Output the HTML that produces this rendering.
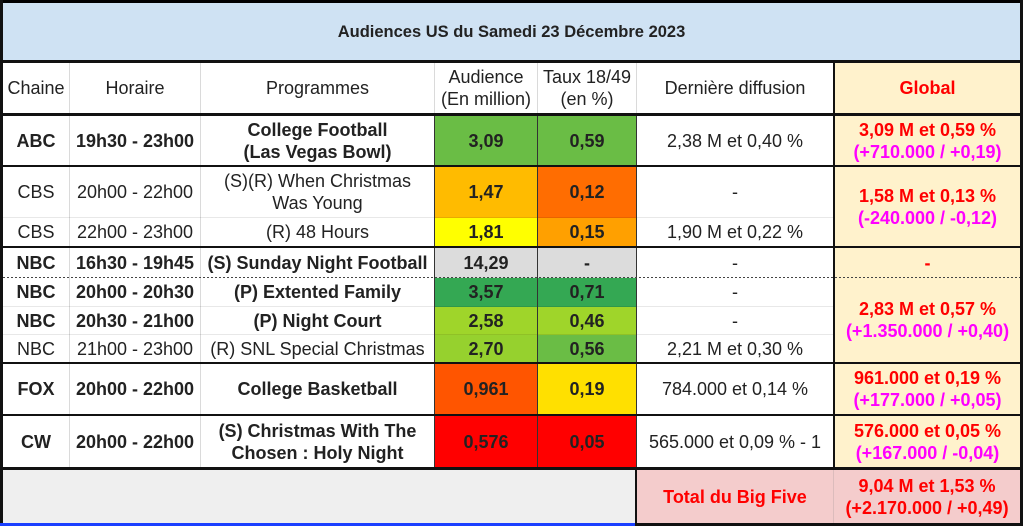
<!DOCTYPE html>
<html><head><meta charset="utf-8">
<style>
html,body{margin:0;padding:0;background:#fff;}
#w{position:relative;width:1023px;height:529px;overflow:hidden;background:#fff;font-family:"Liberation Sans",Arial,sans-serif;color:#222;}
.c{position:absolute;display:flex;align-items:center;justify-content:center;text-align:center;font-size:18px;line-height:22px;white-space:nowrap;}
.b{font-weight:bold;}
.r{color:#ff0000;font-weight:bold;}
.m{color:#ff00ff;font-weight:bold;}
.l{position:absolute;}
</style></head><body><div id="w">

<!-- backgrounds -->
<div class="l" style="left:3px;top:3px;width:1017px;height:57px;background:#cfe2f3"></div>
<div class="l" style="left:835px;top:63px;width:185px;height:405px;background:#fff2cc"></div>
<div class="l" style="left:3px;top:470px;width:632px;height:53px;background:#efefef"></div>
<div class="l" style="left:637px;top:470px;width:383px;height:53px;background:#f4cccc"></div>

<!-- colored cells: audience 435-537, taux 538-636 -->
<div class="l" style="left:435px;top:116px;width:102px;height:49px;background:#6abd45"></div>
<div class="l" style="left:538px;top:116px;width:98px;height:49px;background:#6abd45"></div>
<div class="l" style="left:435px;top:167px;width:102px;height:51px;background:#ffbb00"></div>
<div class="l" style="left:538px;top:167px;width:98px;height:51px;background:#ff6d01"></div>
<div class="l" style="left:435px;top:218px;width:102px;height:28px;background:#ffff00"></div>
<div class="l" style="left:538px;top:218px;width:98px;height:28px;background:#ffa000"></div>
<div class="l" style="left:435px;top:248px;width:102px;height:30px;background:#dcdcdc"></div>
<div class="l" style="left:538px;top:248px;width:98px;height:30px;background:#dcdcdc"></div>
<div class="l" style="left:435px;top:278px;width:102px;height:29px;background:#34a853"></div>
<div class="l" style="left:538px;top:278px;width:98px;height:29px;background:#34a853"></div>
<div class="l" style="left:435px;top:307px;width:102px;height:28px;background:#9fd52a"></div>
<div class="l" style="left:538px;top:307px;width:98px;height:28px;background:#9fd52a"></div>
<div class="l" style="left:435px;top:335px;width:102px;height:27px;background:#96d12e"></div>
<div class="l" style="left:538px;top:335px;width:98px;height:27px;background:#6abd45"></div>
<div class="l" style="left:435px;top:364px;width:102px;height:50px;background:#ff5500"></div>
<div class="l" style="left:538px;top:364px;width:98px;height:50px;background:#ffe000"></div>
<div class="l" style="left:435px;top:416px;width:102px;height:51px;background:#ff0000"></div>
<div class="l" style="left:538px;top:416px;width:98px;height:51px;background:#ff0000"></div>

<!-- thin gray grid lines -->
<div class="l" style="left:69px;top:63px;width:1px;height:404px;background:#dadada"></div>
<div class="l" style="left:200px;top:63px;width:1px;height:404px;background:#dadada"></div>
<div class="l" style="left:434px;top:63px;width:1px;height:50px;background:#dadada"></div>
<div class="l" style="left:537px;top:63px;width:1px;height:50px;background:#dadada"></div>
<div class="l" style="left:636px;top:63px;width:1px;height:50px;background:#dadada"></div>
<div class="l" style="left:3px;top:217px;width:830px;height:1px;background:rgba(0,0,0,0.09)"></div>
<div class="l" style="left:3px;top:306px;width:830px;height:1px;background:rgba(0,0,0,0.09)"></div>
<div class="l" style="left:3px;top:334px;width:830px;height:1px;background:rgba(0,0,0,0.09)"></div>
<div class="l" style="left:833px;top:470px;width:1px;height:53px;background:#dcbcbc"></div>

<!-- dark vertical lines in data rows -->
<div class="l" style="left:434px;top:116px;width:1px;height:351px;background:#333"></div>
<div class="l" style="left:537px;top:116px;width:1px;height:351px;background:#333"></div>
<div class="l" style="left:636px;top:116px;width:1px;height:351px;background:#333"></div>

<!-- dotted line -->
<div class="l" style="left:3px;top:277px;width:1017px;height:1px;background:repeating-linear-gradient(to right,#444 0 2px,transparent 2px 4px)"></div>

<!-- black lines -->
<div class="l" style="left:0;top:0;width:1023px;height:3px;background:#000"></div>
<div class="l" style="left:0;top:60px;width:1023px;height:3px;background:#111"></div>
<div class="l" style="left:0;top:113px;width:1023px;height:3px;background:#111"></div>
<div class="l" style="left:0;top:165px;width:1023px;height:2px;background:#111"></div>
<div class="l" style="left:0;top:246px;width:1023px;height:2px;background:#111"></div>
<div class="l" style="left:0;top:362px;width:1023px;height:2px;background:#111"></div>
<div class="l" style="left:0;top:414px;width:1023px;height:2px;background:#111"></div>
<div class="l" style="left:0;top:467px;width:1023px;height:3px;background:#111"></div>
<div class="l" style="left:0;top:523px;width:635px;height:3px;background:#1a3fff"></div>
<div class="l" style="left:635px;top:523px;width:388px;height:3px;background:#111"></div>
<div class="l" style="left:0;top:0;width:3px;height:523px;background:#111"></div>
<div class="l" style="left:1020px;top:0;width:3px;height:526px;background:#111"></div>
<div class="l" style="left:833px;top:60px;width:2px;height:410px;background:#111"></div>
<div class="l" style="left:635px;top:467px;width:2px;height:59px;background:#111"></div>

<!-- title -->
<div class="c b" style="left:3px;top:3px;width:1017px;height:57px;font-size:16.5px">Audiences US du Samedi 23 Décembre 2023</div>

<!-- header -->
<div class="c" style="left:3px;top:63px;width:66px;height:50px">Chaine</div>
<div class="c" style="left:70px;top:63px;width:130px;height:50px">Horaire</div>
<div class="c" style="left:201px;top:63px;width:233px;height:50px">Programmes</div>
<div class="c" style="left:435px;top:63px;width:102px;height:50px">Audience<br>(En million)</div>
<div class="c" style="left:538px;top:63px;width:98px;height:50px">Taux 18/49<br>(en %)</div>
<div class="c" style="left:637px;top:63px;width:196px;height:50px">Dernière diffusion</div>
<div class="c r" style="left:835px;top:63px;width:185px;height:50px">Global</div>

<!-- ABC -->
<div class="c b" style="left:3px;top:116px;width:66px;height:49px">ABC</div>
<div class="c b" style="left:70px;top:116px;width:130px;height:49px">19h30 - 23h00</div>
<div class="c b" style="left:201px;top:116px;width:233px;height:49px">College Football<br>(Las Vegas Bowl)</div>
<div class="c b" style="left:435px;top:116px;width:102px;height:49px">3,09</div>
<div class="c b" style="left:538px;top:116px;width:98px;height:49px">0,59</div>
<div class="c" style="left:637px;top:116px;width:196px;height:49px">2,38 M et 0,40 %</div>
<div class="c" style="left:835px;top:116px;width:185px;height:49px;flex-direction:column"><span class="r">3,09 M et 0,59 %</span><span class="m">(+710.000 / +0,19)</span></div>

<!-- CBS 1 -->
<div class="c" style="left:3px;top:167px;width:66px;height:50px">CBS</div>
<div class="c" style="left:70px;top:167px;width:130px;height:50px">20h00 - 22h00</div>
<div class="c" style="left:201px;top:167px;width:233px;height:50px">(S)(R) When Christmas<br>Was Young</div>
<div class="c b" style="left:435px;top:167px;width:102px;height:50px">1,47</div>
<div class="c b" style="left:538px;top:167px;width:98px;height:50px">0,12</div>
<div class="c" style="left:637px;top:167px;width:196px;height:50px">-</div>
<!-- CBS 2 -->
<div class="c" style="left:3px;top:218px;width:66px;height:28px">CBS</div>
<div class="c" style="left:70px;top:218px;width:130px;height:28px">22h00 - 23h00</div>
<div class="c" style="left:201px;top:218px;width:233px;height:28px">(R) 48 Hours</div>
<div class="c b" style="left:435px;top:218px;width:102px;height:28px">1,81</div>
<div class="c b" style="left:538px;top:218px;width:98px;height:28px">0,15</div>
<div class="c" style="left:637px;top:218px;width:196px;height:28px">1,90 M et 0,22 %</div>
<div class="c" style="left:835px;top:167px;width:185px;height:79px;flex-direction:column"><span class="r">1,58 M et 0,13 %</span><span class="m">(-240.000 / -0,12)</span></div>

<!-- NBC SNF -->
<div class="c b" style="left:3px;top:248px;width:66px;height:29px">NBC</div>
<div class="c b" style="left:70px;top:248px;width:130px;height:29px">16h30 - 19h45</div>
<div class="c b" style="left:201px;top:248px;width:233px;height:29px">(S) Sunday Night Football</div>
<div class="c b" style="left:435px;top:248px;width:102px;height:29px">14,29</div>
<div class="c b" style="left:538px;top:248px;width:98px;height:29px">-</div>
<div class="c" style="left:637px;top:248px;width:196px;height:29px">-</div>
<div class="c r" style="left:835px;top:248px;width:185px;height:29px">-</div>

<!-- NBC Ext -->
<div class="c b" style="left:3px;top:278px;width:66px;height:28px">NBC</div>
<div class="c b" style="left:70px;top:278px;width:130px;height:28px">20h00 - 20h30</div>
<div class="c b" style="left:201px;top:278px;width:233px;height:28px">(P) Extented Family</div>
<div class="c b" style="left:435px;top:278px;width:102px;height:28px">3,57</div>
<div class="c b" style="left:538px;top:278px;width:98px;height:28px">0,71</div>
<div class="c" style="left:637px;top:278px;width:196px;height:28px">-</div>
<!-- NBC Night Court -->
<div class="c b" style="left:3px;top:307px;width:66px;height:27px">NBC</div>
<div class="c b" style="left:70px;top:307px;width:130px;height:27px">20h30 - 21h00</div>
<div class="c b" style="left:201px;top:307px;width:233px;height:27px">(P) Night Court</div>
<div class="c b" style="left:435px;top:307px;width:102px;height:27px">2,58</div>
<div class="c b" style="left:538px;top:307px;width:98px;height:27px">0,46</div>
<div class="c" style="left:637px;top:307px;width:196px;height:27px">-</div>
<!-- NBC SNL -->
<div class="c" style="left:3px;top:335px;width:66px;height:27px">NBC</div>
<div class="c" style="left:70px;top:335px;width:130px;height:27px">21h00 - 23h00</div>
<div class="c" style="left:201px;top:335px;width:233px;height:27px">(R) SNL Special Christmas</div>
<div class="c b" style="left:435px;top:335px;width:102px;height:27px">2,70</div>
<div class="c b" style="left:538px;top:335px;width:98px;height:27px">0,56</div>
<div class="c" style="left:637px;top:335px;width:196px;height:27px">2,21 M et 0,30 %</div>
<div class="c" style="left:835px;top:278px;width:185px;height:84px;flex-direction:column"><span class="r">2,83 M et 0,57 %</span><span class="m">(+1.350.000 / +0,40)</span></div>

<!-- FOX -->
<div class="c b" style="left:3px;top:364px;width:66px;height:50px">FOX</div>
<div class="c b" style="left:70px;top:364px;width:130px;height:50px">20h00 - 22h00</div>
<div class="c b" style="left:201px;top:364px;width:233px;height:50px">College Basketball</div>
<div class="c b" style="left:435px;top:364px;width:102px;height:50px">0,961</div>
<div class="c b" style="left:538px;top:364px;width:98px;height:50px">0,19</div>
<div class="c" style="left:637px;top:364px;width:196px;height:50px">784.000 et 0,14 %</div>
<div class="c" style="left:835px;top:364px;width:185px;height:50px;flex-direction:column"><span class="r">961.000 et 0,19 %</span><span class="m">(+177.000 / +0,05)</span></div>

<!-- CW -->
<div class="c b" style="left:3px;top:416px;width:66px;height:51px">CW</div>
<div class="c b" style="left:70px;top:416px;width:130px;height:51px">20h00 - 22h00</div>
<div class="c b" style="left:201px;top:416px;width:233px;height:51px">(S) Christmas With The<br>Chosen : Holy Night</div>
<div class="c b" style="left:435px;top:416px;width:102px;height:51px">0,576</div>
<div class="c b" style="left:538px;top:416px;width:98px;height:51px">0,05</div>
<div class="c" style="left:637px;top:416px;width:196px;height:51px">565.000 et 0,09 % - 1</div>
<div class="c" style="left:835px;top:416px;width:185px;height:51px;flex-direction:column"><span class="r">576.000 et 0,05 %</span><span class="m">(+167.000 / -0,04)</span></div>

<!-- Total -->
<div class="c r" style="left:637px;top:470px;width:196px;height:53px">Total du Big Five</div>
<div class="c" style="left:834px;top:470px;width:186px;height:53px;flex-direction:column"><span class="r">9,04 M et 1,53 %</span><span class="r">(+2.170.000 / +0,49)</span></div>

</div></body></html>
